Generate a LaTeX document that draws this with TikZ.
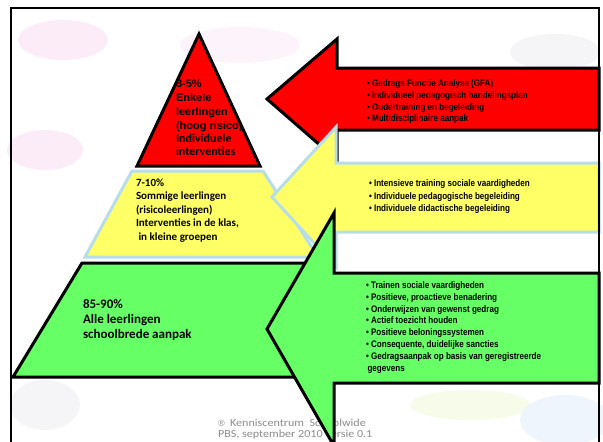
\documentclass[tikz,border=0pt]{standalone}
\usepackage{fontspec}
\setmainfont{Carlito}
\newfontfamily\arialf{Liberation Sans}
\newfontfamily\narrowf[FakeStretch=0.85]{Liberation Sans}
\newfontfamily\footf[FakeStretch=1.12]{Carlito}
\definecolor{pyred}{HTML}{FE0000}
\definecolor{pyyellow}{HTML}{FFFF66}
\definecolor{pygreen}{HTML}{66FF66}
\definecolor{lblue}{HTML}{B7DDE8}
\definecolor{footgray}{HTML}{8C8C8C}
\definecolor{inkblack}{HTML}{000000}
\definecolor{blobpink}{HTML}{FCECF8}
\definecolor{blobpalepink}{HTML}{FDF4FB}
\definecolor{blobgreen}{HTML}{F6FBEA}
\definecolor{blobblue}{HTML}{EEF5FC}
\definecolor{blobgray}{HTML}{F5F5F8}
\begin{document}
\begin{tikzpicture}[x=1pt,y=-1pt,line join=miter,
  txt/.style={anchor=base west,inner sep=0pt,outer sep=0pt,align=left,text=inkblack},
  blackedge/.style={draw=black,line width=3pt},
  blueedge/.style={draw=lblue,line width=3pt},
  pyrbig/.style={font=\arialf\bfseries\fontsize{11}{14.2}\selectfont},
  pyrsmall/.style={font=\bfseries\fontsize{12}{13.3}\selectfont},
  midtext/.style={font=\bfseries\fontsize{11}{13.5}\selectfont},
  lowtext/.style={font=\bfseries\fontsize{13}{15}\selectfont},
  bullets/.style={font=\narrowf\bfseries\fontsize{9.5}{11.8}\selectfont},
  foottext/.style={font=\footf\fontsize{10.8}{11}\selectfont,text=footgray}]
\useasboundingbox (0,0) rectangle (603,442);
\clip (0,0) rectangle (603,442);
\fill[white] (0,0) rectangle (603,442);
% faint background blobs
\fill[blobpink] (63,40) ellipse [x radius=45,y radius=20];
\fill[blobpalepink] (240,45) ellipse [x radius=60,y radius=18];
\fill[blobpink] (45,150) ellipse [x radius=38,y radius=20];
\fill[blobgray] (555,52) ellipse [x radius=45,y radius=18];
\fill[blobgray] (45,405) ellipse [x radius=35,y radius=25];
\fill[blobgreen] (470,405) ellipse [x radius=60,y radius=15];
\fill[blobblue] (565,420) ellipse [x radius=45,y radius=25];
% footer
\node[txt,foottext] (foot) at (218,426) {\begin{tabular}[t]{@{}l@{}}{\arialf\fontsize{9}{11}\selectfont ®}\ \ Kenniscentrum\ \ Schoolwide\\PBS, september 2010 versie 0.1\end{tabular}};
% pyramid: top
\fill[pyred] (199,34) -- (260,166) -- (137,166) -- cycle;
\node[txt,pyrbig] (toptxt) at (176,87) {\begin{tabular}[t]{@{}l@{}}3-5\%\\Enkele\\leerlingen\\(hoog risico)\end{tabular}};
\node[txt,pyrsmall] (toptxtb) at (176,142) {\begin{tabular}[t]{@{}l@{}}Individuele\\interventies\end{tabular}};
\draw[blackedge] (199,34) -- (260,166) -- (137,166) -- cycle;
% pyramid: middle
\path[fill=pyyellow,blueedge] (132,171) -- (263,171) -- (318,257) -- (85,257) -- cycle;
\node[txt,midtext] (midtxt) at (136,186) {\begin{tabular}[t]{@{}l@{}}7-10\%\\Sommige leerlingen\\(risicoleerlingen)\\Interventies in de klas,\\\hspace{2.5pt}in kleine groepen\end{tabular}};
% pyramid: bottom
\path[fill=pygreen,blackedge] (82,263) -- (318,263) -- (388,377) -- (13,377) -- cycle;
\node[txt,lowtext] (lowtxt) at (83,308) {\begin{tabular}[t]{@{}l@{}}85-90\%\\Alle leerlingen\\schoolbrede aanpak\end{tabular}};
% arrows
\path[fill=pyred,blackedge] (599,68) -- (337,68) -- (337,39) -- (267,99) -- (337,160) -- (337,130) -- (599,130) -- cycle;
\path[fill=pyyellow,blueedge] (599,163) -- (336,163) -- (336,127) -- (272,197) -- (336,267) -- (336,232) -- (599,232) -- cycle;
\path[fill=pygreen,blackedge] (599,273) -- (334,273) -- (334,213) -- (267,329) -- (334,446) -- (334,383) -- (599,383) -- cycle;
\node[txt,bullets] (redlist) at (367,86.5) {\begin{tabular}[t]{@{}l@{}}• Gedrags Functie Analyse (GFA)\\• Individueel pedagogisch handelingsplan\\• Oudertraining en begeleiding\\• Multidisciplinaire aanpak\end{tabular}};
\node[txt,bullets,font=\narrowf\bfseries\fontsize{9.5}{12.7}\selectfont] (yellowlist) at (369,186.5) {\begin{tabular}[t]{@{}l@{}}• Intensieve training sociale vaardigheden\\• Individuele pedagogische begeleiding\\• Individuele didactische begeleiding\end{tabular}};
\node[txt,bullets] (greenlist) at (366,288.5) {\begin{tabular}[t]{@{}l@{}}• Trainen sociale vaardigheden\\• Positieve, proactieve benadering\\• Onderwijzen van gewenst gedrag\\• Actief toezicht houden\\• Positieve beloningssystemen\\• Consequente, duidelijke sancties\\• Gedragsaanpak op basis van geregistreerde\\\hspace{1.5pt}gegevens\end{tabular}};
% frame
\draw[line width=2.5pt] (11,8) rectangle (599,470);
\end{tikzpicture}
\end{document}
